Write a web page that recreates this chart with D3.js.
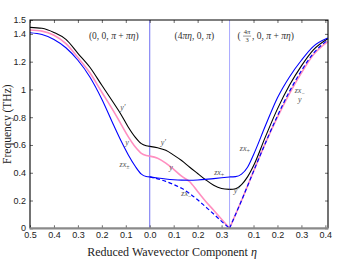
<!DOCTYPE html>
<html>
<head>
<meta charset="utf-8">
<script src="https://cdn.jsdelivr.net/npm/d3@7.9.0/dist/d3.min.js"></script>
<style>
  body { margin: 0; background: #fff; }
  svg { display: block; font-family: "Liberation Serif", "DejaVu Serif", serif; }
  .tick text { font-size: 9px; fill: #222; }
  .lab { font-size: 8px; font-style: italic; fill: #555; }
</style>
</head>
<body>
<svg width="354" height="266"></svg>
<script>
// eta values along each path segment
const eta1 = [0.5, 0.45, 0.4, 0.35, 0.3, 0.25, 0.2, 0.15, 0.12, 0.09, 0.06, 0.035, 0.015, 0];
const eta2 = [0, 0.033, 0.067, 0.1, 0.133, 0.167, 0.2, 0.233, 0.267, 0.3, 1 / 3];
const eta3 = [0, 0.025, 0.05, 0.075, 0.1, 0.15, 0.2, 0.25, 0.3, 0.35, 0.41];

// frequencies (THz)
const yPrime1 = [1.447, 1.44, 1.41, 1.36, 1.26, 1.16, 1.03, 0.9, 0.82, 0.73, 0.655, 0.61, 0.595, 0.59];
const yMode1  = [1.428, 1.42, 1.39, 1.33, 1.23, 1.12, 0.98, 0.84, 0.75, 0.66, 0.585, 0.54, 0.525, 0.52];
const zxPm1   = [1.408, 1.395, 1.36, 1.3, 1.21, 1.09, 0.93, 0.74, 0.63, 0.53, 0.445, 0.39, 0.373, 0.37];

const yPrime2 = [0.59, 0.58, 0.562, 0.527, 0.488, 0.44, 0.395, 0.35, 0.31, 0.287, 0.28];
const yMode2  = [0.52, 0.505, 0.47, 0.425, 0.375, 0.335, 0.265, 0.195, 0.13, 0.065, 0];
const zxPlus2 = [0.37, 0.362, 0.355, 0.35, 0.347, 0.346, 0.348, 0.352, 0.358, 0.364, 0.37];
const zxMin2  = [0.37, 0.356, 0.338, 0.315, 0.288, 0.25, 0.205, 0.155, 0.103, 0.05, 0];

const yPrime3 = [0.28, 0.285, 0.315, 0.37, 0.45, 0.66, 0.86, 1.03, 1.17, 1.285, 1.365];
const yMode3  = [0, 0.1, 0.2, 0.305, 0.41, 0.615, 0.8, 0.97, 1.12, 1.25, 1.345];
const zxPlus3 = [0.37, 0.372, 0.39, 0.44, 0.53, 0.74, 0.94, 1.09, 1.21, 1.31, 1.37];
const zxMin3  = [0, 0.1, 0.2, 0.305, 0.41, 0.615, 0.81, 0.985, 1.135, 1.26, 1.355];

// tick labels
const xTicks1 = [0.5, 0.4, 0.3, 0.2, 0.1, 0.0];
const xTicks2 = [0.1, 0.2, 0.3];
const xTicks3 = [0.1, 0.2, 0.3, 0.4];
const yTicks = [0, 0.2, 0.4, 0.6, 0.8, 1, 1.2, 1.4, 1.5];

const etaEnd = 0.411;

// convert segment eta to a running coordinate
function toS(seg, eta) {
  if (seg === 1) return 0.5 - eta;
  if (seg === 2) return 0.5 + eta;
  return 0.5 + 1 / 3 + eta;
}

const svg = d3.select("svg");
const x = d3.scaleLinear().domain([0, toS(3, etaEnd)]).range([30, 328]);
const y = d3.scaleLinear().domain([0, 1.5]).range([228.3, 20]);

// region boundaries
[[0.5, "#6f6ff2"], [0.5 + 1 / 3, "#a8a8ff"]].forEach(([s, c]) => {
  svg.append("line")
    .attr("x1", x(s)).attr("x2", x(s))
    .attr("y1", y(0)).attr("y2", y(1.5))
    .attr("stroke", c).attr("stroke-width", 1);
});

const line = d3.line().x(d => x(d[0])).y(d => y(d[1])).curve(d3.curveMonotoneX);

function draw(seg, etas, vals, color, width, dash) {
  let pts = etas.map((e, i) => [toS(seg, e), vals[i]]).sort((a, b) => a[0] - b[0]);
  svg.append("path")
    .attr("d", line(pts))
    .attr("fill", "none")
    .attr("stroke", color)
    .attr("stroke-width", width)
    .attr("stroke-dasharray", dash || null);
}

const pink = "#ff8fc0";
draw(1, eta1, yMode1, pink, 1.6);
draw(2, eta2, yMode2, pink, 1.6);
draw(3, eta3, yMode3, pink, 1.6);
draw(1, eta1, yPrime1, "#000", 1.1);
draw(2, eta2, yPrime2, "#000", 1.1);
draw(3, eta3, yPrime3, "#000", 1.1);
draw(1, eta1, zxPm1, "#0000ff", 1.1);
draw(2, eta2, zxPlus2, "#0000ff", 1.1);
draw(3, eta3, zxPlus3, "#0000ff", 1.1);
draw(2, eta2, zxMin2, "#0000ff", 1.2, "4,2.5");
draw(3, eta3, zxMin3, "#0000ff", 1.2, "4,2.5");

// axes
const xTickS = xTicks1.map(t => toS(1, t))
  .concat(xTicks2.map(t => toS(2, t)), xTicks3.map(t => toS(3, t)));
const xTickLab = xTicks1.concat(xTicks2, xTicks3).map(d3.format(".1f"));

svg.append("g").attr("transform", `translate(0,${y(0)})`)
  .call(d3.axisBottom(x).tickValues(xTickS).tickFormat((d, i) => xTickLab[i]).tickSize(-3).tickPadding(3.5));
svg.append("g").attr("transform", `translate(0,${y(1.5)})`)
  .call(d3.axisTop(x).tickValues(xTickS).tickFormat("").tickSize(-3));
svg.append("g").attr("transform", `translate(${x(0)},0)`)
  .call(d3.axisLeft(y).tickValues(yTicks).tickFormat(d => d === 0 || d === 1 ? String(d) : d3.format(".1f")(d)).tickSize(-3).tickPadding(4));
svg.append("g").attr("transform", `translate(${x(toS(3, etaEnd))},0)`)
  .call(d3.axisRight(y).tickValues(yTicks).tickFormat("").tickSize(-3));
svg.selectAll(".domain").remove();
svg.selectAll(".tick line").attr("stroke", "#444").attr("stroke-width", 0.8);
svg.selectAll(".tick text").attr("font-family", null).attr("font-size", null);
// lift the zero label a touch so it clears the 0.5 below it
svg.selectAll(".tick text").filter(d => d === 0 && this !== null).each(function (d) {
  if (d3.select(this.parentNode.parentNode).attr("transform").startsWith(`translate(${x(0)}`)) {
    d3.select(this).attr("dy", "0.2em");
  }
});

// frame
const x0 = x(0), x1 = x(toS(3, etaEnd));
svg.append("path")
  .attr("d", `M${x0},${y(0)}V${y(1.5)}H${x1}V${y(0)}`)
  .attr("fill", "none").attr("stroke", "#000").attr("stroke-width", 1.1);
svg.append("line")
  .attr("x1", x0 - 0.5).attr("x2", x1 + 0.5).attr("y1", y(0)).attr("y2", y(0))
  .attr("stroke", "#8a8a8a").attr("stroke-width", 2.2);

// axis titles
svg.append("text")
  .attr("x", 172).attr("y", 256)
  .attr("text-anchor", "middle").attr("font-size", 12).attr("fill", "#222")
  .html('Reduced Wavevector Component <tspan font-style="italic">η</tspan>');
svg.append("text")
  .attr("transform", `translate(11,${y(0.75)}) rotate(-90)`)
  .attr("text-anchor", "middle").attr("font-size", 11.5).attr("fill", "#222")
  .text("Frequency (THz)");

// curve labels
const curveLabels = [
  { seg: 1, eta: 0.112, f: 0.866, t: "y′" },
  { seg: 1, eta: 0.095, f: 0.614, t: "y" },
  { seg: 1, eta: 0.105, f: 0.456, t: "zx", sub: "±" },
  { seg: 2, eta: 0.057, f: 0.614, t: "y′" },
  { seg: 2, eta: 0.089, f: 0.434, t: "y" },
  { seg: 2, eta: 0.29, f: 0.4, t: "zx", sub: "+" },
  { seg: 2, eta: 0.153, f: 0.247, t: "zx", sub: "−" },
  { seg: 3, eta: 0.029, f: 0.271, t: "y′" },
  { seg: 3, eta: 0.064, f: 0.576, t: "zx", sub: "+" },
  { seg: 3, eta: 0.293, f: 0.99, t: "zx", sub: "−" },
  { seg: 3, eta: 0.293, f: 0.924, t: "y" }
];
curveLabels.forEach(l => {
  const t = svg.append("text").attr("class", "lab")
    .attr("x", x(toS(l.seg, l.eta))).attr("y", y(l.f)).attr("dy", "0.3em")
    .attr("text-anchor", "middle");
  t.append("tspan").text(l.t);
  if (l.sub) t.append("tspan").attr("font-size", 6).attr("dy", 2).attr("font-style", "normal").text(l.sub);
});

// region titles
const regionY = y(1.384);
svg.append("text").attr("x", x(toS(1, 0.15))).attr("y", regionY).attr("dy", "0.35em")
  .attr("text-anchor", "middle").attr("font-size", 9.5).attr("fill", "#333")
  .html('(0, 0, <tspan font-style="italic">π</tspan> + <tspan font-style="italic">πη</tspan>)');
svg.append("text").attr("x", x(toS(2, 0.186))).attr("y", regionY).attr("dy", "0.35em")
  .attr("text-anchor", "middle").attr("font-size", 9.5).attr("fill", "#333")
  .html('(4<tspan font-style="italic">πη</tspan>, 0, <tspan font-style="italic">π</tspan>)');
const r3 = svg.append("g").attr("transform", `translate(${x(toS(3, 0.0))},${regionY})`);
r3.append("text").attr("x", 8).attr("dy", "0.35em").attr("font-size", 9.5).attr("fill", "#333").text("(");
r3.append("text").attr("x", 17.5).attr("y", -2).attr("text-anchor", "middle").attr("font-size", 6.5).attr("fill", "#333")
  .html('4<tspan font-style="italic">π</tspan>');
r3.append("line").attr("x1", 13.5).attr("x2", 21.5).attr("y1", 0).attr("y2", 0).attr("stroke", "#333").attr("stroke-width", 0.5);
r3.append("text").attr("x", 17.5).attr("y", 6).attr("text-anchor", "middle").attr("font-size", 6.5).attr("fill", "#333").text("3");
r3.append("text").attr("x", 22.5).attr("dy", "0.35em").attr("font-size", 9.5).attr("fill", "#333")
  .html(', 0, <tspan font-style="italic">π</tspan> + <tspan font-style="italic">πη</tspan>)');
</script>
</body>
</html>
